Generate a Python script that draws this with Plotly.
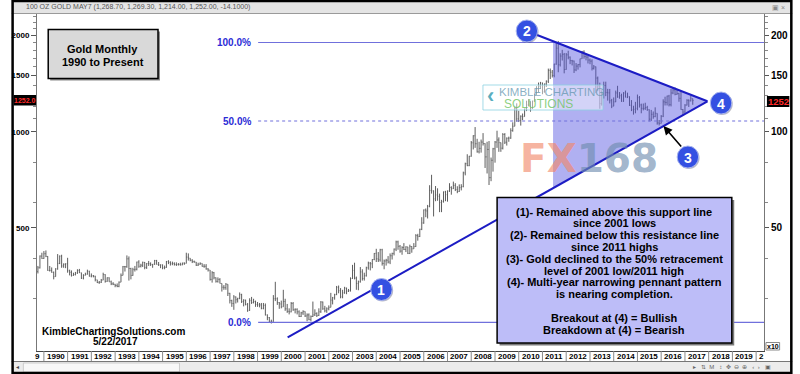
import numpy as np
import pandas as pd
import plotly.graph_objects as go

# ---------------- data (monthly bars, Oct 1989 .. May 2017) ----------------
months = pd.date_range("1989-10-01", "2017-05-01", freq="MS")

highs = [
    380, 410, 418,
    423, 425, 408, 380, 376, 365, 374, 414, 410, 412, 387, 387,
    403, 370, 368, 362, 364, 371, 372, 362, 358, 362, 370, 367,
    360, 356, 354, 344, 341, 346, 362, 358, 350, 350, 342, 338,
    334, 335, 340, 360, 380, 380, 410, 407, 375, 375, 380, 392,
    396, 386, 392, 391, 388, 394, 390, 385, 397, 397, 391, 384,
    384, 381, 394, 396, 393, 392, 390, 390, 388, 389, 389, 390,
    418, 416, 402, 399, 395, 391, 389, 390, 387, 385, 385, 374,
    369, 366, 364, 350, 350, 348, 335, 331, 336, 333, 313, 298,
    308, 305, 302, 314, 311, 299, 298, 291, 301, 304, 300, 296,
    293, 291, 291, 291, 290, 268, 263, 258, 308, 339, 303, 293,
    296, 320, 300, 289, 280, 293, 293, 280, 280, 276, 273, 276,
    274, 270, 270, 266, 294, 278, 272, 280, 295, 294, 285, 282,
    286, 313, 304, 311, 329, 330, 324, 320, 327, 325, 322, 350,
    383, 389, 352, 342, 377, 371, 362, 378, 392, 391, 399, 417,
    430, 420, 430, 430, 398, 400, 408, 416, 418, 431, 456, 456,
    442, 438, 448, 438, 436, 443, 438, 448, 478, 479, 497, 540,
    571, 575, 590, 680, 733, 655, 676, 665, 640, 612, 650, 653,
    655, 690, 675, 698, 690, 675, 684, 685, 750, 800, 850, 840,
    935, 975, 1034, 950, 930, 945, 990, 920, 930, 935, 830, 890,
    935, 1007, 960, 925, 990, 990, 960, 965, 1025, 1070, 1195, 1227,
    1163, 1125, 1140, 1180, 1250, 1265, 1245, 1250, 1315, 1388, 1425, 1432,
    1424, 1415, 1447, 1576, 1577, 1560, 1632, 1912, 1923, 1760, 1804, 1764,
    1763, 1792, 1720, 1678, 1670, 1640, 1630, 1693, 1790, 1798, 1754, 1728,
    1695, 1685, 1617, 1600, 1488, 1424, 1348, 1434, 1434, 1362, 1361, 1267,
    1280, 1345, 1392, 1331, 1315, 1330, 1345, 1325, 1290, 1256, 1206, 1240,
    1307, 1293, 1224, 1225, 1232, 1205, 1175, 1170, 1157, 1192, 1142, 1088,
    1127, 1263, 1287, 1297, 1304, 1362, 1377, 1375, 1352, 1325, 1338, 1178,
    1220, 1264, 1263, 1296, 1269.3,
]
lows = [
    360, 373, 400,
    400, 405, 367, 365, 362, 345, 352, 370, 385, 375, 375, 374,
    362, 355, 352, 354, 355, 359, 361, 346, 345, 355, 357, 352,
    350, 350, 340, 336, 334, 336, 343, 337, 339, 339, 331, 331,
    326, 326, 326, 338, 355, 365, 375, 342, 345, 354, 365, 368,
    375, 376, 377, 371, 372, 380, 380, 375, 383, 384, 380, 374,
    371, 371, 375, 385, 381, 382, 381, 380, 381, 381, 382, 383,
    387, 395, 393, 388, 389, 380, 380, 383, 378, 375, 370, 365,
    342, 337, 345, 337, 337, 335, 316, 320, 320, 306, 290, 283,
    277, 290, 292, 299, 291, 284, 286, 273, 275, 289, 290, 283,
    283, 282, 278, 278, 266, 257, 252, 251, 254, 295, 287, 279,
    280, 283, 275, 271, 268, 272, 275, 270, 268, 263, 263, 267,
    263, 255, 257, 255, 263, 265, 263, 265, 271, 277, 272, 271,
    276, 282, 288, 298, 308, 312, 301, 301, 311, 310, 315, 316,
    346, 345, 320, 319, 337, 342, 342, 352, 370, 368, 374, 396,
    391, 391, 392, 381, 371, 381, 387, 385, 398, 410, 423, 427,
    418, 412, 426, 420, 414, 414, 418, 430, 436, 456, 468, 492,
    515, 540, 535, 580, 640, 543, 606, 608, 560, 560, 600, 606,
    604, 648, 635, 662, 652, 642, 648, 655, 670, 730, 780, 780,
    835, 880, 890, 860, 855, 860, 905, 770, 740, 681, 700, 750,
    800, 890, 865, 865, 880, 915, 905, 930, 950, 1000, 1040, 1075,
    1072, 1045, 1087, 1115, 1160, 1200, 1155, 1180, 1240, 1305, 1330, 1360,
    1310, 1325, 1380, 1420, 1462, 1478, 1480, 1620, 1535, 1600, 1670, 1523,
    1563, 1685, 1627, 1612, 1527, 1547, 1564, 1590, 1690, 1692, 1672, 1635,
    1626, 1555, 1565, 1321, 1338, 1180, 1207, 1270, 1292, 1251, 1226, 1185,
    1202, 1238, 1277, 1268, 1240, 1240, 1281, 1274, 1204, 1160, 1131, 1142,
    1167, 1190, 1142, 1166, 1170, 1162, 1077, 1080, 1098, 1110, 1052, 1046,
    1061, 1111, 1208, 1208, 1200, 1200, 1310, 1300, 1305, 1241, 1171, 1124,
    1146, 1208, 1195, 1244, 1214,
]
closes = [
    375, 408, 401,
    415, 407, 368, 368, 363, 352, 372, 387, 408, 380, 385, 386,
    367, 363, 355, 357, 361, 368, 362, 348, 355, 358, 366, 353,
    354, 353, 344, 337, 338, 343, 357, 340, 349, 339, 334, 333,
    330, 328, 338, 355, 378, 378, 400, 373, 355, 370, 371, 391,
    379, 382, 390, 376, 387, 386, 384, 385, 395, 384, 383, 383,
    375, 376, 392, 390, 386, 387, 384, 384, 384, 383, 388, 387,
    405, 402, 396, 392, 391, 382, 385, 387, 379, 379, 372, 369,
    345, 362, 349, 340, 345, 335, 326, 325, 333, 312, 296, 290,
    304, 298, 301, 309, 294, 297, 288, 276, 296, 292, 294, 288,
    287, 287, 280, 286, 267, 262, 255, 255, 300, 300, 292, 289,
    283, 294, 279, 274, 273, 290, 277, 278, 273, 264, 271, 274,
    265, 267, 258, 264, 267, 270, 266, 273, 293, 279, 275, 279,
    282, 297, 302, 309, 326, 318, 304, 313, 324, 317, 318, 347,
    368, 348, 335, 339, 364, 347, 354, 375, 388, 386, 398, 416,
    400, 397, 427, 387, 394, 396, 391, 409, 416, 429, 452, 438,
    423, 434, 428, 436, 416, 437, 430, 437, 473, 470, 495, 518,
    569, 565, 584, 655, 653, 616, 634, 628, 600, 604, 648, 635,
    652, 669, 663, 679, 659, 650, 668, 673, 743, 794, 783, 838,
    923, 971, 917, 865, 887, 928, 918, 834, 880, 718, 814, 884,
    928, 942, 924, 888, 980, 927, 954, 955, 1008, 1040, 1182, 1097,
    1083, 1118, 1115, 1180, 1213, 1244, 1181, 1248, 1309, 1359, 1386, 1421,
    1333, 1410, 1439, 1556, 1536, 1500, 1628, 1826, 1620, 1725, 1746, 1566,
    1740, 1711, 1669, 1664, 1561, 1604, 1622, 1692, 1776, 1720, 1711, 1676,
    1663, 1579, 1596, 1472, 1393, 1224, 1313, 1396, 1327, 1323, 1250, 1202,
    1240, 1322, 1284, 1296, 1246, 1322, 1282, 1287, 1210, 1171, 1175, 1184,
    1278, 1213, 1183, 1183, 1190, 1172, 1095, 1134, 1115, 1142, 1065, 1061,
    1118, 1240, 1235, 1293, 1215, 1322, 1351, 1309, 1316, 1272, 1173, 1152,
    1211, 1254, 1249, 1268, 1252,
]
first_open = 365
last_open = 1268.7
opens = [first_open] + closes[:-1]
opens[-1] = last_open

fib_levels = [1902, 1080, 253]
fib_labels = ["100.0%", "50.0%", "0.0%"]
fib_dash = ["solid", "dot", "solid"]

support_x = ["2000-04-08", "2017-12-13"]
support_y = [227, 1245]
resist_x = ["2010-05-05", "2017-12-13"]
resist_y = [2067, 1245]
tri_x = ["2011-06-13", "2017-12-13", "2011-06-13", "2011-06-13"]
tri_y = [1918, 1245, 666, 1918]

year_labels = [str(y) for y in range(1990, 2020)]
left_ticks = [500, 1000, 1500, 2000]
left_minor = [300, 400, 600, 800, 1100, 1200, 1300, 1400, 1600, 1700, 1800, 1900, 2100, 2200, 2300]
right_ticks = [50, 100, 150, 200]
right_minor = [30, 40, 60, 80, 110, 120, 130, 140, 160, 170, 180, 190, 210, 220, 230]

header_text = "100 OZ GOLD MAY7 (1,268.70, 1,269.30, 1,214.00, 1,252.00, -14.1000)"
last_price_left = "1252.0"
last_price_right = "1252"
box_lines = [
    "(1)- Remained above this support line",
    "since 2001 lows",
    "(2)- Remained below this resistance line",
    "since 2011 highs",
    "(3)- Gold declined to the 50% retracement",
    "level of 2001 low/2011 high",
    "(4)- Multi-year narrowing pennant pattern",
    "is nearing completion.",
    "",
    "Breakout at (4) = Bullish",
    "Breakdown at (4) = Bearish",
]

# ---------------- layout geometry (pixels) ----------------
W, H = 800, 374
L, R, T, B = 26, 771, 14, 351
X0, X1 = pd.Timestamp("1989-09-17"), pd.Timestamp("2020-05-01")
YLOG = [2.3136, 3.3684]
FONT = "Liberation Sans"


def PX(x):
    return (x - L) / (R - L)


def PY(y):
    return (B - y) / (B - T)


def DX(d):
    return (pd.Timestamp(d) - X0) / (X1 - X0)


fig = go.Figure()

fig.add_trace(go.Ohlc(
    x=months, open=opens, high=highs, low=lows, close=closes,
    increasing=dict(line=dict(color="#5e5e5e", width=1)),
    decreasing=dict(line=dict(color="#5e5e5e", width=1)),
    tickwidth=0.35, hoverinfo="skip", showlegend=False))

fig.add_trace(go.Scatter(x=tri_x, y=tri_y, mode="lines", fill="toself",
                         fillcolor="rgba(80,80,225,0.45)", line=dict(width=0),
                         hoverinfo="skip"))

for lvl, dash in zip(fib_levels, fib_dash):
    fig.add_trace(go.Scatter(x=["1999-01-10", "2020-05-01"], y=[lvl, lvl], mode="lines",
                             line=dict(color="#7070dc", width=1.2, dash=dash), hoverinfo="skip"))

fig.add_trace(go.Scatter(x=support_x, y=support_y, mode="lines",
                         line=dict(color="#1c1cc4", width=2), hoverinfo="skip"))
fig.add_trace(go.Scatter(x=resist_x, y=resist_y, mode="lines",
                         line=dict(color="#1c1cc4", width=2), hoverinfo="skip"))

# dummy trace so that the right (x10) axis is drawn
fig.add_trace(go.Scatter(x=[months[0]], y=[closes[0] / 10], yaxis="y2", mode="markers",
                         marker=dict(opacity=0), hoverinfo="skip"))

shapes = []
annots = []


def rect(x0, y0, x1, y1, fill=None, line=None, lw=1, layer="above"):
    shapes.append(dict(type="rect", xref="paper", yref="paper",
                       x0=PX(x0), x1=PX(x1), y0=PY(y1), y1=PY(y0),
                       fillcolor=fill if fill else "rgba(0,0,0,0)",
                       line=dict(color=line if line else "rgba(0,0,0,0)", width=lw if line else 0),
                       layer=layer))


def hline(x0, x1, y, color, lw=1):
    shapes.append(dict(type="line", xref="paper", yref="paper", x0=PX(x0), x1=PX(x1),
                       y0=PY(y), y1=PY(y), line=dict(color=color, width=lw)))


def text(x, y, s, size, color="black", bold=True, xanchor="center", family=FONT, xshift=0):
    annots.append(dict(xref="paper", yref="paper", x=PX(x), y=PY(y), text=(f"<b>{s}</b>" if bold else s),
                       showarrow=False, xanchor=xanchor, yanchor="middle", xshift=xshift,
                       font=dict(family=family, size=size, color=color)))


# header bar
rect(0, 0, 800, 13.5, fill="#e4e4e4")
hline(0, 800, 13.5, "#9a9a9a")
text(13, 7, header_text, 7, color="#555555", bold=False, xanchor="left")
text(786, 7, "▣ ×", 7, color="#888888", bold=False)

# watermark logo
rect(483, 85, 606, 110, fill="rgba(255,255,255,0.45)", line="rgba(140,210,225,0.8)", lw=1)
text(491, 96, "‹", 22, color="rgba(60,160,180,0.85)")
text(497, 92, "KIMBLE CHARTING", 11.5, color="rgba(100,150,175,0.75)", bold=False, xanchor="left")
text(503, 103.5, "SOLUTIONS", 12, color="rgba(110,195,95,0.8)", bold=False, xanchor="left")
annots.append(dict(xref="paper", yref="paper", x=PX(592), y=PY(158), showarrow=False,
                   text="<b><span style='color:rgba(242,135,105,0.65)'>FX</span>"
                        "<span style='color:rgba(110,140,175,0.65)'>168</span></b>",
                   xanchor="center", yanchor="middle",
                   font=dict(family="DejaVu Sans", size=39)))

# title box
rect(39.5, 31.5, 152, 80.5, fill="#8a8a8a")
rect(37.5, 29.5, 150, 78.5, fill="#d9d9d9", line="black", lw=1.5)
text(93.5, 48.5, "Gold Monthly", 11)
text(93.5, 61.5, "1990 to Present", 11)

# web / date
text(104.5, 331, "KimbleChartingSolutions.com", 10)
text(106, 341.5, "5/22/2017", 10)

# fib labels
for lvl, lab in zip(fib_levels, fib_labels):
    yy = 131.7 - (np.log10(lvl) - 3) * 319.5
    text(247, yy, lab, 10, color="#2b2bd6", xanchor="right")

# explanation box
rect(500, 200, 740.5, 345.5, fill="#7a7a7a")
rect(497.5, 197.5, 738, 343, fill="#bdbdf8", line="black", lw=1.5)
for i, s in enumerate(box_lines):
    if s:
        text(617.5, 211.5 + i * 11.8, s, 11)

# numbered circles
circles = [("1", 379, 289.5), ("2", 528, 31), ("3", 693, 157), ("4", 727, 103)]
for lab, cx, cy in circles:
    r = 11
    shapes.append(dict(type="circle", xref="paper", yref="paper",
                       x0=PX(cx - r + 1), x1=PX(cx + r + 1), y0=PY(cy + r + 1), y1=PY(cy - r + 1),
                       fillcolor="rgba(60,60,90,0.35)", line=dict(width=0), layer="above"))
    shapes.append(dict(type="circle", xref="paper", yref="paper",
                       x0=PX(cx - r), x1=PX(cx + r), y0=PY(cy + r), y1=PY(cy - r),
                       fillcolor="#3450e2", line=dict(color="#aab6ee", width=1), layer="above"))
    text(cx, cy + 0.5, lab, 14, color="white")

# arrow from (3)
annots.append(dict(xref="paper", yref="paper", x=PX(668), y=PY(126), ax=19, ay=22,
                   text="", showarrow=True, arrowhead=2, arrowsize=1.1, arrowwidth=1.6,
                   arrowcolor="black"))

# last price tags
rect(2, 95, 25, 105.5, fill="black")
text(13.5, 100.3, last_price_left, 7, color="#ff2a2a")
rect(774, 96, 797, 107, fill="black")
text(785.5, 101.5, last_price_right, 9.5, color="#ff2a2a")

# x10 box
rect(773, 342.5, 787, 350, fill="white", line="#888888", lw=1)
text(780, 346.3, "x10", 7)

# year strip
for y in range(1990, 2021):
    xx = DX(f"{y}-01-01")
    shapes.append(dict(type="line", xref="paper", yref="paper", x0=xx, x1=xx,
                       y0=PY(351), y1=PY(361), line=dict(color="#8a8a8a", width=1)))
for lab in year_labels:
    annots.append(dict(xref="paper", yref="paper", x=DX(f"{lab}-01-01"), y=PY(356.5),
                       text=f"<b>{lab}</b>", showarrow=False, xanchor="left", yanchor="middle",
                       xshift=1, font=dict(family=FONT, size=8, color="black")))
annots.append(dict(xref="paper", yref="paper", x=DX("1990-01-01"), y=PY(356.5), text="<b>9</b>",
                   showarrow=False, xanchor="right", yanchor="middle", xshift=-1.5,
                   font=dict(family=FONT, size=8, color="black")))
annots.append(dict(xref="paper", yref="paper", x=DX("2020-01-01"), y=PY(356.5), text="<b>2</b>",
                   showarrow=False, xanchor="left", yanchor="middle", xshift=1,
                   font=dict(family=FONT, size=8, color="black")))

# scroll bar
hline(0, 800, 361.5, "#777777")
rect(2, 362, 798, 373, fill="#ececec")
rect(12, 363, 172, 372, fill="#f8f8f8", line="#cccccc", lw=1)
text(6, 367, "◂", 6, color="#444444", bold=False)
text(738, 367, "▸   ⇅  M   ↕  ✥  ⊖  ⊕   ‹  ›   ▣", 6, color="#666666", bold=False)

# outer frame
shapes.append(dict(type="rect", xref="paper", yref="paper", x0=PX(1), x1=PX(799), y0=PY(373), y1=PY(1),
                   line=dict(color="black", width=2.5), fillcolor="rgba(0,0,0,0)", layer="above"))

fig.update_layout(
    width=W, height=H,
    margin=dict(l=L, r=W - R, t=T, b=H - B, pad=0),
    paper_bgcolor="white", plot_bgcolor="white",
    showlegend=False, hovermode=False,
    font=dict(family=FONT),
    xaxis=dict(type="date", range=[X0, X1], showgrid=False, showticklabels=False, ticks="",
               showline=True, linecolor="#444444", linewidth=1, zeroline=False,
               rangeslider=dict(visible=False), fixedrange=True),
    yaxis=dict(type="log", range=YLOG, tickvals=left_ticks, ticktext=[str(v) for v in left_ticks],
               tickfont=dict(family=FONT, size=8, color="black", weight="bold"),
               ticks="outside", ticklen=5, tickcolor="#555555", tickwidth=1,
               showline=True, linecolor="#777777", linewidth=1, showgrid=False, zeroline=False,
               minor=dict(tickvals=left_minor, ticks="outside", ticklen=3, tickcolor="#888888",
                          showgrid=False)),
    yaxis2=dict(type="log", overlaying="y", side="right", anchor="x",
                range=[YLOG[0] - 1, YLOG[1] - 1], tickvals=right_ticks,
                ticktext=[str(v) for v in right_ticks],
                tickfont=dict(family=FONT, size=10, color="black", weight="bold"),
                ticks="outside", ticklen=4, tickcolor="#555555",
                showline=True, linecolor="#777777", linewidth=1, showgrid=False, zeroline=False,
                minor=dict(tickvals=right_minor, ticks="outside", ticklen=3, tickcolor="#888888",
                           showgrid=False)),
    shapes=shapes, annotations=annots,
)

fig.write_html("out.html", config={"displayModeBar": False, "staticPlot": True},
               post_script="document.body.style.margin='0px';document.body.style.overflow='hidden';")
